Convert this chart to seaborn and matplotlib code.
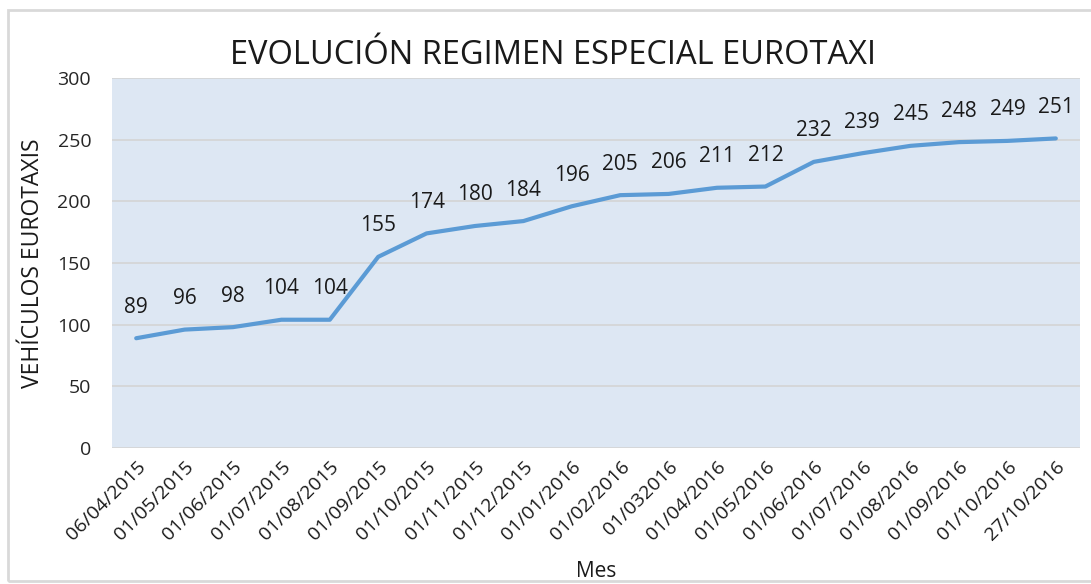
import matplotlib
matplotlib.use("Agg")
import matplotlib.pyplot as plt
import seaborn as sns
import pandas as pd
from matplotlib.patches import Rectangle

fechas = ["06/04/2015", "01/05/2015", "01/06/2015", "01/07/2015", "01/08/2015",
          "01/09/2015", "01/10/2015", "01/11/2015", "01/12/2015", "01/01/2016",
          "01/02/2016", "01/032016", "01/04/2016", "01/05/2016", "01/06/2016",
          "01/07/2016", "01/08/2016", "01/09/2016", "01/10/2016", "27/10/2016"]
vehiculos = [89, 96, 98, 104, 104, 155, 174, 180, 184, 196,
             205, 206, 211, 212, 232, 239, 245, 248, 249, 251]
y_ticks = [0, 50, 100, 150, 200, 250, 300]

df = pd.DataFrame({"x": range(len(fechas)), "v": vehiculos})

sns.set_style("white")
plt.rcParams['font.family'] = ['Open Sans', 'DejaVu Sans']

fig = plt.figure(figsize=(10.91, 5.84), dpi=100)
ax = fig.add_axes([112/1091, 1 - 448/584, (1080-112)/1091, (448-78)/584])
ax.set_facecolor("#DDE7F3")

sns.lineplot(data=df, x="x", y="v", ax=ax, color="#5B9BD5", linewidth=3,
             solid_capstyle="round")

for i, v in enumerate(vehiculos):
    ax.annotate(str(v), (i, v), xytext=(0, 31), textcoords="offset pixels",
                ha="center", va="center", fontsize=15, color="#1a1a1a")

ax.set_xlim(-0.5, len(fechas) - 0.5)
ax.set_ylim(0, 300)
ax.set_yticks(y_ticks)
ax.set_yticklabels([str(t) for t in y_ticks], fontsize=14, color="#262626")
ax.set_xticks(range(len(fechas)))
ax.set_xticklabels(fechas, rotation=45, ha="right", rotation_mode="anchor",
                   fontsize=14, color="#1a1a1a")
ax.tick_params(axis="both", length=0)
ax.tick_params(axis="y", pad=15)
ax.tick_params(axis="x", pad=7)
ax.grid(axis="y", color="#D4D4D4", linewidth=1.2)
ax.set_axisbelow(True)
for s in ax.spines.values():
    s.set_visible(False)

ax.set_xlabel("Mes", fontsize=15, color="#1a1a1a", labelpad=12)
ax.set_ylabel("VEHÍCULOS EUROTAXIS", fontsize=16.5, color="#1a1a1a", labelpad=9)
fig.text(553 / 1091, 1 - 55/584, "EVOLUCIÓN REGIMEN ESPECIAL EUROTAXI",
         ha="center", va="center", fontsize=23.5, color="#1a1a1a")

fig.patches.append(Rectangle((8/1091, 0.005), 1.2, 1 - 10/584 - 0.005,
                             transform=fig.transFigure, fill=False,
                             edgecolor="#D9D9D9", linewidth=2))

fig.savefig("out.png", dpi=100, facecolor="white")
